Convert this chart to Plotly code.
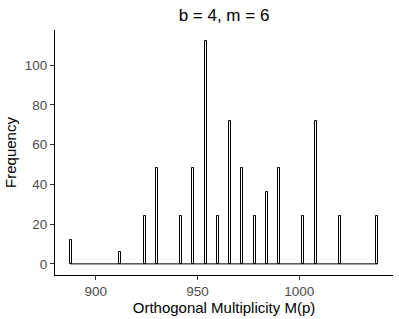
import plotly.graph_objects as go

# Data (binwidth 1)
multiplicity = [888, 912, 924, 930, 942, 948, 954, 960, 966, 972, 978, 984, 990, 1002, 1008, 1020, 1038]
frequency = [12, 6, 24, 48, 24, 48, 112, 24, 72, 48, 24, 36, 48, 24, 72, 24, 24]
binwidth = 1
x_ticks = [900, 950, 1000]
y_ticks = [0, 20, 40, 60, 80, 100]

lo = min(multiplicity) - binwidth / 2
hi = max(multiplicity) + binwidth / 2
xpad = (hi - lo) * 0.05
ymax = max(frequency)
ypad = ymax * 0.05

fig = go.Figure()
# zero-count bins drawn as baseline (as ggplot does)
fig.add_trace(go.Scatter(
    x=[lo, hi], y=[0, 0], mode="lines",
    line=dict(color="black", width=1), showlegend=False, hoverinfo="skip"))
fig.add_trace(go.Bar(
    x=multiplicity, y=frequency, width=binwidth,
    marker=dict(color="white", line=dict(color="black", width=1)),
    showlegend=False))

font = "Liberation Sans, Arial, sans-serif"
fig.update_layout(
    width=399, height=319,
    margin=dict(l=55, r=6, t=30, b=44, autoexpand=False),
    paper_bgcolor="white", plot_bgcolor="white",
    font=dict(family=font, color="black"),
    title=dict(text="b = 4, m = 6", x=0.5, xref="paper", xanchor="center",
               y=1 - 15 / 319, yref="container", yanchor="middle",
               font=dict(size=17, color="black"), automargin=False),
    bargap=0,
)
fig.update_xaxes(
    range=[lo - xpad, hi + xpad], tickvals=x_ticks,
    showgrid=False, zeroline=False, automargin=False,
    showline=True, linecolor="black", linewidth=1,
    ticks="outside", ticklen=4, tickcolor="#333333", tickwidth=1,
    tickfont=dict(size=13.5, color="#4D4D4D"),
    title=dict(text="Orthogonal Multiplicity M(p)", font=dict(size=15, color="black"), standoff=2),
)
fig.update_yaxes(
    range=[-ypad, ymax + ypad], tickvals=y_ticks,
    showgrid=False, zeroline=False, automargin=False,
    showline=True, linecolor="black", linewidth=1,
    ticks="outside", ticklen=4, tickcolor="#333333", tickwidth=1,
    tickfont=dict(size=13.5, color="#4D4D4D"),
    title=dict(text="Frequency", font=dict(size=15, color="black"), standoff=4),
)

fig.write_html("out.html", config={"displayModeBar": False},
               post_script="document.body.style.margin='0';")
